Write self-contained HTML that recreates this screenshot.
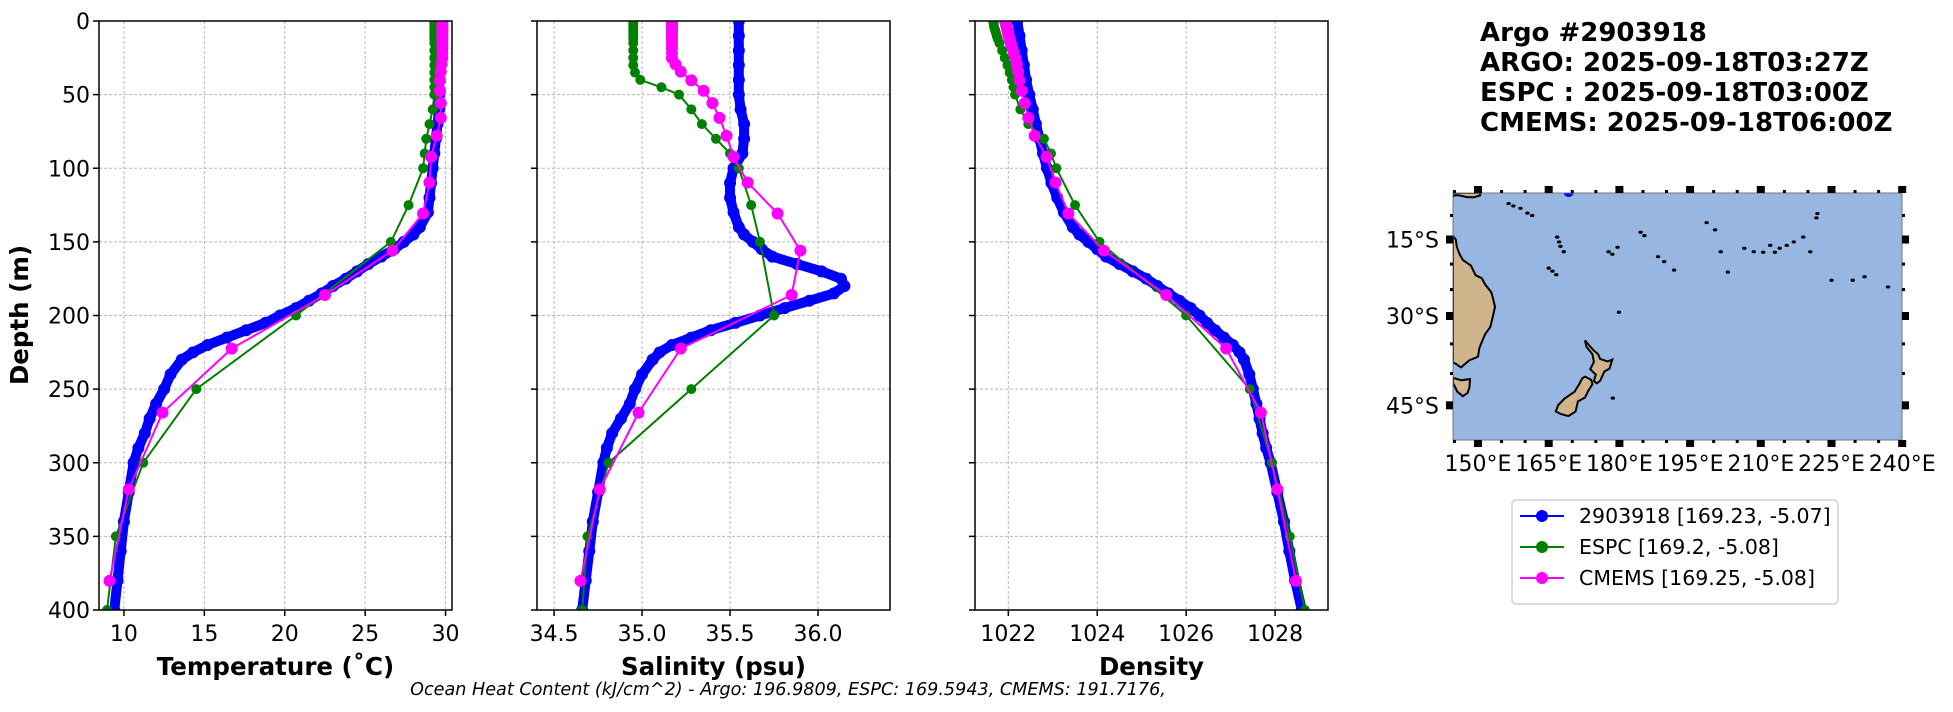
<!DOCTYPE html>
<html><head><meta charset="utf-8"><style>
html,body{margin:0;padding:0;background:#fff;}
svg{display:block;font-family:"DejaVu Sans","Liberation Sans",sans-serif;}
</style></head><body>
<svg id="fig" xmlns="http://www.w3.org/2000/svg" width="1953" height="712" viewBox="0 0 1953 712">
<rect width="1953" height="712" fill="#fff"/>
<g id="title" font-weight="bold" font-size="26" fill="#000">
<text x="1480" y="41">Argo #2903918</text>
<text x="1480" y="71">ARGO: 2025-09-18T03:27Z</text>
<text x="1480" y="101">ESPC : 2025-09-18T03:00Z</text>
<text x="1480" y="131">CMEMS: 2025-09-18T06:00Z</text>
</g>
<text x="788" y="695" text-anchor="middle" font-style="italic" font-size="17.6">Ocean Heat Content (kJ/cm^2) - Argo: 196.9809,  ESPC: 169.5943,  CMEMS: 191.7176,</text>
<text transform="translate(28,315) rotate(-90)" text-anchor="middle" font-weight="bold" font-size="24.5">Depth (m)</text>
</svg>
<script>
// ---- data ----
const argoDepth=[0,10,20,30,40,50,60,70,80,90,100,110,120,130,140,145,150,155,160,165,170,175,180,185,190,195,200,205,210,215,220,225,230,240,250,260,270,280,290,300,320,340,360,380,400];
const argoTemp=[29.6,29.6,29.6,29.6,29.6,29.6,29.6,29.5,29.4,29.3,29.2,29.1,29.0,28.9,28.4,28.0,27.4,26.8,26.0,25.2,24.5,23.8,23.0,22.3,21.5,20.7,19.7,18.8,17.6,16.4,15.2,14.3,13.6,12.9,12.5,12.0,11.6,11.3,10.9,10.6,10.3,10.0,9.8,9.6,9.4];
const argoSal=[35.55,35.55,35.55,35.55,35.55,35.55,35.56,35.58,35.58,35.57,35.52,35.5,35.5,35.52,35.55,35.58,35.63,35.68,35.74,35.88,36.02,36.13,36.15,36.09,35.95,35.81,35.67,35.53,35.39,35.28,35.17,35.1,35.06,35.0,34.96,34.93,34.88,34.83,34.8,34.78,34.75,34.72,34.7,34.68,34.66];
const argoDens=[1022.2,1022.25,1022.3,1022.35,1022.4,1022.47,1022.55,1022.62,1022.7,1022.78,1022.87,1022.97,1023.1,1023.25,1023.45,1023.6,1023.8,1024.0,1024.2,1024.5,1024.8,1025.1,1025.35,1025.6,1025.85,1026.1,1026.3,1026.47,1026.65,1026.85,1027.05,1027.2,1027.3,1027.42,1027.5,1027.58,1027.65,1027.72,1027.8,1027.9,1028.05,1028.2,1028.32,1028.45,1028.6];
const espcDepth=[0,2,4,6,8,10,12,15,20,25,30,35,40,45,50,60,70,80,90,100,125,150,200,250,300,350,400];
const espcTemp=[29.3,29.3,29.3,29.3,29.3,29.3,29.3,29.3,29.3,29.3,29.3,29.3,29.3,29.3,29.3,29.2,29.0,28.8,28.7,28.6,27.7,26.6,20.7,14.5,11.2,9.5,8.95];
const espcSal=[34.95,34.95,34.95,34.95,34.95,34.95,34.95,34.95,34.95,34.95,34.95,34.96,34.99,35.11,35.21,35.28,35.34,35.42,35.5,35.55,35.62,35.67,35.75,35.28,34.81,34.69,34.66];
const espcDens=[1021.66,1021.67,1021.68,1021.7,1021.72,1021.74,1021.76,1021.8,1021.86,1021.92,1021.98,1022.03,1022.08,1022.12,1022.15,1022.27,1022.45,1022.8,1022.96,1023.08,1023.5,1024.05,1026.0,1027.43,1027.93,1028.33,1028.67];
const cmDepth=[0.5,1.5,2.6,3.8,5.1,6.4,7.9,9.6,11.4,13.5,15.8,18.5,21.6,25.2,29.4,34.4,40.3,47.4,55.8,65.8,77.9,92.3,109.7,130.7,155.9,186.1,222.5,266.0,318.1,380.2];
const cmTemp=[29.8,29.8,29.8,29.8,29.8,29.8,29.8,29.8,29.8,29.8,29.8,29.8,29.8,29.8,29.75,29.7,29.65,29.65,29.7,29.7,29.45,29.1,29.0,28.6,26.7,22.5,16.7,12.4,10.3,9.1];
const cmSal=[35.17,35.17,35.17,35.17,35.17,35.17,35.17,35.17,35.17,35.17,35.17,35.17,35.17,35.17,35.19,35.22,35.28,35.35,35.4,35.44,35.48,35.52,35.6,35.77,35.9,35.85,35.22,34.98,34.76,34.65];
const cmDens=[1021.93,1021.94,1021.95,1021.96,1021.97,1021.98,1021.99,1022.0,1022.02,1022.04,1022.06,1022.09,1022.12,1022.16,1022.19,1022.22,1022.25,1022.3,1022.37,1022.45,1022.59,1022.86,1023.06,1023.35,1024.15,1025.55,1026.9,1027.68,1028.05,1028.47];
const depthTicks=[0,50,100,150,200,250,300,350,400];
const tempTicks=[10,15,20,25,30];
const salTicks=[34.5,35.0,35.5,36.0];
const salTickLabels=["34.5","35.0","35.5","36.0"];
const densTicks=[1022,1024,1026,1028];
const lonTicks=[150,165,180,195,210,225,240];
const latTicks=[15,30,45];
const legendLabels=["2903918 [169.23, -5.07]","ESPC [169.2, -5.08]","CMEMS [169.25, -5.08]"];

const NS='http://www.w3.org/2000/svg';
const svg=document.getElementById('fig');
function mk(tag,attrs,parent){const e=document.createElementNS(NS,tag);for(const k in attrs)e.setAttribute(k,attrs[k]);(parent||svg).appendChild(e);return e;}

const TOP=21,BOT=610;
const yD=d=>TOP+(d/400)*(BOT-TOP);
const panels=[
 {name:'temperature',x0:99,x1:452,v0:8.45,v1:30.4,ticks:tempTicks,labels:tempTicks.map(String),title:'Temperature (˚C)',data:[argoTemp,espcTemp,cmTemp]},
 {name:'salinity',x0:537,x1:890,v0:34.403,v1:36.409,ticks:salTicks,labels:salTickLabels,title:'Salinity (psu)',data:[argoSal,espcSal,cmSal]},
 {name:'density',x0:975,x1:1328,v0:1021.25,v1:1029.19,ticks:densTicks,labels:densTicks.map(String),title:'Density',data:[argoDens,espcDens,cmDens]}
];
const depths=[argoDepth,espcDepth,cmDepth];
const colors=['#0000ff','#008000','#ff00ff'];
const series=['argo','espc','cmems'];

panels.forEach((p,pi)=>{
  const xs=v=>p.x0+(v-p.v0)/(p.v1-p.v0)*(p.x1-p.x0);
  const g=mk('g',{});
  
  
  const cid='clip'+pi;
  const cp=mk('clipPath',{id:cid},g);mk('rect',{x:p.x0,y:TOP,width:p.x1-p.x0,height:BOT-TOP},cp);
  p.ticks.forEach(t=>{const l=mk('line',{x1:xs(t),x2:xs(t),y1:TOP,y2:BOT,stroke:'#b8b8b8','stroke-width':1,'stroke-dasharray':'3,2'},g);
    });
  depthTicks.forEach(t=>{const l=mk('line',{x1:p.x0,x2:p.x1,y1:yD(t),y2:yD(t),stroke:'#b8b8b8','stroke-width':1,'stroke-dasharray':'3,2'},g);
    });
  const sg=mk('g',{'clip-path':'url(#'+cid+')'},g);
  [0,1,2].forEach(si=>{
    const vals=p.data[si],dep=depths[si];
    const pts=vals.map((v,i)=>xs(v).toFixed(1)+','+yD(dep[i]).toFixed(1)).join(' ');
    const s=mk('g',{},sg);
    
    
    if(si===0){mk('polyline',{points:pts,fill:'none',stroke:colors[0],'stroke-width':10,'stroke-linejoin':'round','stroke-linecap':'round'},s);}
    else mk('polyline',{points:pts,fill:'none',stroke:colors[si],'stroke-width':2},s);
    const r=si===1?5:6;
    vals.forEach((v,i)=>{const c=mk('circle',{cx:xs(v),cy:yD(dep[i]),r:r,fill:colors[si]},s);
      });
  });
  const f=mk('rect',{x:p.x0,y:TOP,width:p.x1-p.x0,height:BOT-TOP,fill:'none',stroke:'#000','stroke-width':1.5},g);
  
  p.ticks.forEach((t,i)=>{mk('line',{x1:xs(t),x2:xs(t),y1:BOT,y2:BOT+6,stroke:'#000','stroke-width':1.5},g);
    const tx=mk('text',{x:xs(t),y:BOT+31,'text-anchor':'middle','font-size':22},g);tx.textContent=p.labels[i];
    });
  depthTicks.forEach(t=>{mk('line',{x1:p.x0-6,x2:p.x0,y1:yD(t),y2:yD(t),stroke:'#000','stroke-width':1.5},g);
    if(pi===0){const tx=mk('text',{x:p.x0-9,y:yD(t)+8,'text-anchor':'end','font-size':22},g);tx.textContent=t;
      }});
  const tt=mk('text',{x:(p.x0+p.x1)/2,y:675,'text-anchor':'middle','font-size':24.5,'font-weight':'bold'},g);tt.textContent=p.title;
  
});

// ---- map ----
const australia=[[144.7,-14.3],[145.3,-15],[145.5,-16.5],[146.1,-18],[146.8,-19.2],[148.5,-20.3],[149.5,-22.2],[150.8,-22.8],[151.5,-24],[152.8,-25.5],[153.2,-26.8],[153.6,-28.3],[153.1,-30.3],[152.6,-32],[151.5,-33.3],[151,-34.3],[150.3,-35.7],[150,-37.2],[148.2,-37.8],[146.4,-39],[145.3,-38.4],[144.7,-38.2]];
const tasmania=[[144.7,-40.7],[146.5,-41.1],[148.3,-40.9],[148.2,-42.2],[147.8,-43.1],[146.8,-43.6],[145.6,-42.9],[144.7,-41.5]];
const newGuinea=[[144.7,-5.25],[150.6,-5.25],[150.4,-5.8],[149,-6.2],[147.5,-6.1],[146.2,-5.8],[145.2,-5.7],[144.7,-6.0]];
const nzNorth=[[172.7,-34.4],[173.5,-35.2],[174.5,-36.1],[175.5,-36.8],[175.9,-37.6],[177.5,-38],[178.5,-37.7],[177.9,-39.2],[176.8,-39.7],[175.9,-41.2],[175.2,-41.6],[174.6,-41.2],[175,-40.2],[173.8,-39.3],[174.6,-38.1],[174.3,-36.8],[173,-35.5]];
const nzSouth=[[172.7,-40.5],[174,-41],[174.3,-41.7],[173.3,-42.9],[172.7,-43.8],[171.2,-44.4],[170.7,-45.9],[169.2,-46.6],[167.6,-46.3],[166.5,-45.9],[167,-45],[168.3,-44],[170.5,-42.9],[171.5,-41.7],[172.1,-40.8]];
const islandLon=[156.5,157.5,159,160.5,161.5,166.8,167.2,167.5,168.2,165,165.8,166.6,177.7,178.5,179.6,184.5,185.3,188.2,189.5,191.6,198.5,200.3,201.5,206.5,208.5,210.5,212,213,214,215.5,217,219,220.5,222,221.8,225,229.5,232,237,203,179.9,178.6];
const islandLat=[-7.5,-8,-8.5,-9.5,-10,-14.5,-15.5,-16.4,-17.5,-20.8,-21.4,-22.1,-17.5,-18,-16.6,-13.5,-14.2,-18.5,-19.5,-21.2,-11.5,-13,-17.5,-16.8,-17.5,-17.6,-16.2,-17.6,-16.8,-16.2,-15.5,-14.5,-17.5,-9.6,-10.5,-23.2,-23.2,-22.5,-24.5,-21.6,-29.3,-43.9];
const argoPos=[169.23,-5.07];

const MX0=1453,MX1=1902,MY0=193,MY1=440;
const lonX=lon=>1478+(lon-150)*(70.7/15);
const merc=lat=>Math.log(Math.tan(Math.PI/4+(Math.abs(lat)*Math.PI/180)/2));
const latY=lat=>239.5+269*(merc(lat)-merc(15));
const mg=mk('g',{});


const mcp=mk('clipPath',{id:'mapclip'},mg);mk('rect',{x:MX0,y:MY0,width:MX1-MX0,height:MY1-MY0},mcp);
const ocean=mk('rect',{x:MX0,y:MY0,width:MX1-MX0,height:MY1-MY0,fill:'#97b6e1'},mg);

const lg=mk('g',{'clip-path':'url(#mapclip)'},mg);
[['australia',australia],['tasmania',tasmania],['new-guinea',newGuinea],['nz-north-island',nzNorth],['nz-south-island',nzSouth]].forEach(([n,poly])=>{
  const p=mk('polygon',{points:poly.map(q=>lonX(q[0]).toFixed(1)+','+latY(q[1]).toFixed(1)).join(' '),fill:'#d0b48c',stroke:'#000','stroke-width':2},lg);
  
});
islandLon.forEach((lon,i)=>{const c=mk('ellipse',{cx:lonX(lon),cy:latY(islandLat[i]),rx:2.2,ry:1.6,fill:'#000'},lg);
  });
const ap=mk('circle',{cx:lonX(argoPos[0]),cy:latY(argoPos[1]),r:5,fill:'#0000ff'},lg);

mk('rect',{x:MX0,y:MY0,width:MX1-MX0,height:MY1-MY0,fill:'none',stroke:'#777','stroke-width':1},mg);
for(let lon=145;lon<=240;lon+=5){const x=lonX(lon);const major=lonTicks.includes(lon);
  if(major){mk('rect',{x:x-4,y:MY0-7,width:8,height:7,fill:'#000'},mg);mk('rect',{x:x-4,y:MY1,width:8,height:7,fill:'#000'},mg);}
  else{mk('rect',{x:x-1.5,y:MY0-3,width:3,height:3,fill:'#000'},mg);mk('rect',{x:x-1.5,y:MY1,width:3,height:3,fill:'#000'},mg);}}
for(let lat=10;lat<=45;lat+=5){const y=latY(lat);const major=latTicks.includes(lat);
  if(major){mk('rect',{x:MX0-7,y:y-4,width:7,height:8,fill:'#000'},mg);mk('rect',{x:MX1,y:y-4,width:7,height:8,fill:'#000'},mg);}
  else{mk('rect',{x:MX0-3,y:y-1.5,width:3,height:3,fill:'#000'},mg);mk('rect',{x:MX1,y:y-1.5,width:3,height:3,fill:'#000'},mg);}}
lonTicks.forEach(lon=>{const t=mk('text',{x:lonX(lon),y:471,'text-anchor':'middle','font-size':22},mg);t.textContent=lon+'°E';
  });
latTicks.forEach(lat=>{const t=mk('text',{x:1439,y:latY(lat)+8,'text-anchor':'end','font-size':22},mg);t.textContent=lat+'°S';
  });

// ---- legend ----
const leg=mk('g',{});


mk('rect',{x:1512,y:500,width:326,height:104,rx:4,fill:'#fff',stroke:'#d0d0d0','stroke-width':1.5},leg);
legendLabels.forEach((lab,i)=>{const y=516+i*31;
  const e=mk('g',{},leg);
  
  
  mk('line',{x1:1520,x2:1564,y1:y,y2:y,stroke:colors[i],'stroke-width':2},e);
  mk('circle',{cx:1542,cy:y,r:6,fill:colors[i]},e);
  const t=mk('text',{x:1579,y:y+7,'font-size':20.5},e);t.textContent=lab;});
</script>
</body></html>
